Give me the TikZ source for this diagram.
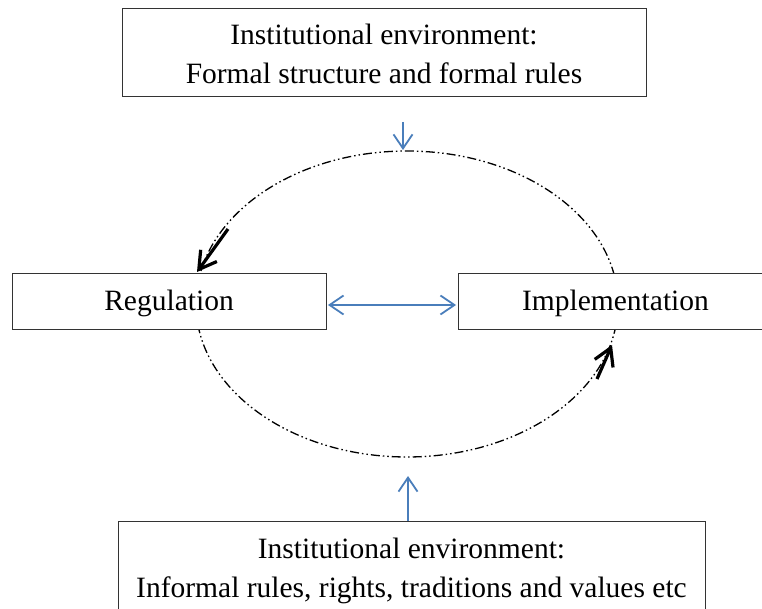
\documentclass[tikz,border=0pt]{standalone}
\usepackage{fontspec}
\setmainfont{Liberation Serif}
\usetikzlibrary{arrows.meta}
\definecolor{arrblue}{HTML}{4A7EBB}
\tikzset{
  box/.style={draw=black!80, line width=0.9pt, fill=white, inner sep=0pt, align=center,
    font=\fontsize{29.5}{39}\selectfont},
  oneline/.style={text height=26pt, text depth=6.5pt},
  bluearr/.style={draw=arrblue, line width=1.8pt, -{Straight Barb[length=14pt,width=19pt,line width=1.8pt]}},
  blackarr/.style={draw=black, line width=3.2pt, -{Straight Barb[length=17pt,width=20pt,line width=3.2pt]}},
  cycleline/.style={draw=black, line width=1.3pt, dash pattern=on 9pt off 3pt on 1.5pt off 3pt on 1.5pt off 3pt}
}
\begin{document}
\begin{tikzpicture}[x=1pt,y=-1pt]
\useasboundingbox (0,0) rectangle (762,609);
\begin{scope}
\clip (0,0) rectangle (762,609);
% cycle ellipse
\draw[cycleline] (407,304) ellipse [x radius=211, y radius=153];
% boxes
\node[box, text height=63pt, text depth=0pt, minimum width=524pt, minimum height=88pt] (top) at (384,52)
  {Institutional environment:\\Formal structure and formal rules};
\node[box, oneline, minimum width=314pt, minimum height=56pt] (reg) at (169,301) {Regulation};
\node[box, oneline, minimum width=315pt, minimum height=56pt] (imp) at (615.5,301) {Implementation};
\node[box, text height=63pt, text depth=6.3pt, minimum width=587pt, minimum height=97pt] (bot) at (411.5,569.5)
  {Institutional environment:\\Informal rules, rights, traditions and values etc};
% free ends
\coordinate (topstart) at (403,122);
\coordinate (toptip) at (403,150);
\coordinate (bottip) at (408,476);
\coordinate (a1s) at (228,229);
\coordinate (a1e) at (197,272);
\coordinate (a2s) at (597,379);
\coordinate (a2e) at (612,345);
% blue arrows
\draw[bluearr] (topstart) -- (toptip);
\draw[bluearr] (bot.north -| bottip) -- (bottip);
\draw[draw=arrblue, line width=1.8pt, {Straight Barb[length=14pt,width=19pt,line width=1.8pt]}-{Straight Barb[length=14pt,width=19pt,line width=1.8pt]}]
  ([yshift=-4pt, xshift=1.5pt]reg.east) -- ([yshift=-4pt, xshift=-1.5pt]imp.west);
% black arrows
\draw[blackarr] (a1s) -- (a1e);
\draw[blackarr] (a2s) -- (a2e);
\end{scope}
\end{tikzpicture}
\end{document}
